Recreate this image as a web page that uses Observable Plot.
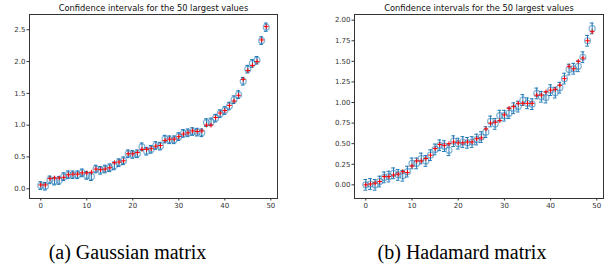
<!DOCTYPE html>
<html><head><meta charset="utf-8">
<script src="https://cdn.jsdelivr.net/npm/d3@7"></script>
<script src="https://cdn.jsdelivr.net/npm/@observablehq/plot@0.6"></script>
<style>
body{margin:0;background:#fff;}
#wrap{position:relative;width:607px;height:271px;overflow:hidden;background:#fff;}
.panel{position:absolute;top:0;}
.cap{position:absolute;top:241px;font-family:"Liberation Serif","Times New Roman",serif;font-size:20px;color:#000;white-space:nowrap;transform:translateX(-50%);}
</style></head><body><div id="wrap"></div>
<script>
const title = "Confidence intervals for the 50 largest values";
const captions = ["(a) Gaussian matrix", "(b) Hadamard matrix"];
const xTicks = [0, 10, 20, 30, 40, 50];

const gaussEst = [0.05,0.04,0.14,0.12,0.13,0.19,0.22,0.22,0.22,0.25,
  0.21,0.19,0.31,0.29,0.31,0.33,0.36,0.41,0.44,0.55,
  0.54,0.55,0.66,0.59,0.62,0.68,0.67,0.78,0.77,0.77,
  0.82,0.87,0.88,0.90,0.89,0.88,1.04,1.05,1.11,1.18,
  1.23,1.30,1.40,1.48,1.69,1.88,1.97,2.02,2.33,2.54];
const gaussTrue = [0.06,0.06,0.16,0.17,0.17,0.18,0.22,0.23,0.23,0.25,
  0.25,0.26,0.31,0.30,0.31,0.33,0.41,0.42,0.44,0.55,
  0.55,0.57,0.62,0.62,0.63,0.67,0.68,0.76,0.78,0.78,
  0.82,0.86,0.88,0.91,0.90,0.91,1.00,1.00,1.12,1.19,
  1.23,1.31,1.38,1.47,1.72,1.86,1.94,2.00,2.34,2.55];
const gaussErr = [0.06,0.06,0.06,0.06,0.06,0.06,0.06,0.06,0.06,0.06,
  0.06,0.06,0.06,0.06,0.06,0.06,0.06,0.06,0.06,0.06,
  0.06,0.06,0.06,0.06,0.06,0.06,0.06,0.06,0.06,0.06,
  0.06,0.06,0.06,0.06,0.06,0.06,0.06,0.06,0.06,0.06,
  0.06,0.06,0.06,0.06,0.06,0.06,0.06,0.06,0.06,0.065];
const gaussYTicks = [0, 0.5, 1, 1.5, 2, 2.5];

const hadEst = [0.00,0.01,0.00,0.04,0.09,0.10,0.14,0.12,0.11,0.16,
  0.26,0.26,0.32,0.29,0.36,0.43,0.48,0.47,0.42,0.53,
  0.50,0.52,0.51,0.52,0.55,0.58,0.64,0.77,0.74,0.84,
  0.84,0.87,0.93,0.95,1.03,0.99,0.98,1.11,1.07,1.06,
  1.15,1.12,1.18,1.29,1.40,1.41,1.44,1.55,1.75,1.90];
const hadTrue = [0.00,0.01,0.02,0.04,0.10,0.10,0.12,0.13,0.16,0.15,
  0.23,0.29,0.29,0.32,0.36,0.44,0.49,0.48,0.50,0.52,
  0.51,0.51,0.52,0.52,0.56,0.57,0.68,0.75,0.76,0.78,
  0.85,0.93,0.95,0.99,0.99,0.99,0.99,1.09,1.09,1.13,
  1.15,1.16,1.21,1.29,1.44,1.41,1.50,1.54,1.75,1.86];
const hadErr = [0.065,0.065,0.065,0.065,0.065,0.065,0.065,0.065,0.065,0.065,
  0.065,0.065,0.065,0.065,0.065,0.065,0.065,0.065,0.065,0.065,
  0.065,0.065,0.065,0.065,0.065,0.065,0.065,0.065,0.065,0.065,
  0.065,0.065,0.065,0.065,0.065,0.065,0.065,0.065,0.065,0.065,
  0.065,0.065,0.065,0.065,0.065,0.065,0.065,0.065,0.065,0.065];
const hadYTicks = [0, 0.25, 0.5, 0.75, 1, 1.25, 1.5, 1.75, 2];

function panel({est, truth, err, yDomain, yTicks, yFmt, mL, mR}) {
  const data = est.map((e, i) => ({i, est: e, truth: truth[i], lo: e - err[i], hi: e + err[i]}));
  return Plot.plot({
    width: 303, height: 215,
    marginLeft: mL, marginRight: mR, marginTop: 14, marginBottom: 17,
    x: {domain: [-2.45, 51.45]},
    y: {domain: yDomain},
    style: {fontFamily: "DejaVu Sans", fontSize: "7px", color: "#333", background: "white"},
    marks: [
      Plot.axisX({ticks: xTicks, tickSize: 2.5, tickPadding: 2, label: null}),
      Plot.axisY({ticks: yTicks, tickFormat: yFmt, tickSize: 2.5, tickPadding: 1.5, label: null}),
      Plot.ruleX(data, {x: "i", y1: "lo", y2: "hi", stroke: "#1f77b4", strokeWidth: 1}),
      Plot.ruleY(data, {y: "hi", x1: d => d.i - 0.4, x2: d => d.i + 0.4, stroke: "#1f77b4", strokeWidth: 1}),
      Plot.ruleY(data, {y: "lo", x1: d => d.i - 0.4, x2: d => d.i + 0.4, stroke: "#1f77b4", strokeWidth: 1}),
      Plot.dot(data, {x: "i", y: "est", r: 3, stroke: "#1f77b4", strokeOpacity: 0.55, strokeWidth: 1.2}),
      Plot.dot(data, {x: "i", y: "truth", symbol: "plus", r: 1.6, stroke: "red", strokeWidth: 1}),
      Plot.frame({stroke: "#333"}),
      Plot.text([title], {text: d => d, frameAnchor: "top", dy: -4, lineAnchor: "bottom", fontSize: 8.3, fill: "#111"})
    ]
  });
}

const wrap = document.getElementById("wrap");
const p1 = panel({est: gaussEst, truth: gaussTrue, err: gaussErr, yDomain: [-0.153, 2.74],
  yTicks: gaussYTicks, yFmt: d3.format(".1f"), mL: 29, mR: 26});
const p2 = panel({est: hadEst, truth: hadTrue, err: hadErr, yDomain: [-0.166, 2.069],
  yTicks: hadYTicks, yFmt: d3.format(".2f"), mL: 51, mR: 3});
const d1 = document.createElement("div"); d1.className = "panel"; d1.style.left = "0px"; d1.appendChild(p1);
const d2 = document.createElement("div"); d2.className = "panel"; d2.style.left = "303px"; d2.appendChild(p2);
wrap.appendChild(d1); wrap.appendChild(d2);
const cx = [127.5, 462];
captions.forEach((c, k) => {
  const s = document.createElement("div");
  s.className = "cap"; s.textContent = c; s.style.left = cx[k] + "px";
  wrap.appendChild(s);
});
</script>
</body></html>
